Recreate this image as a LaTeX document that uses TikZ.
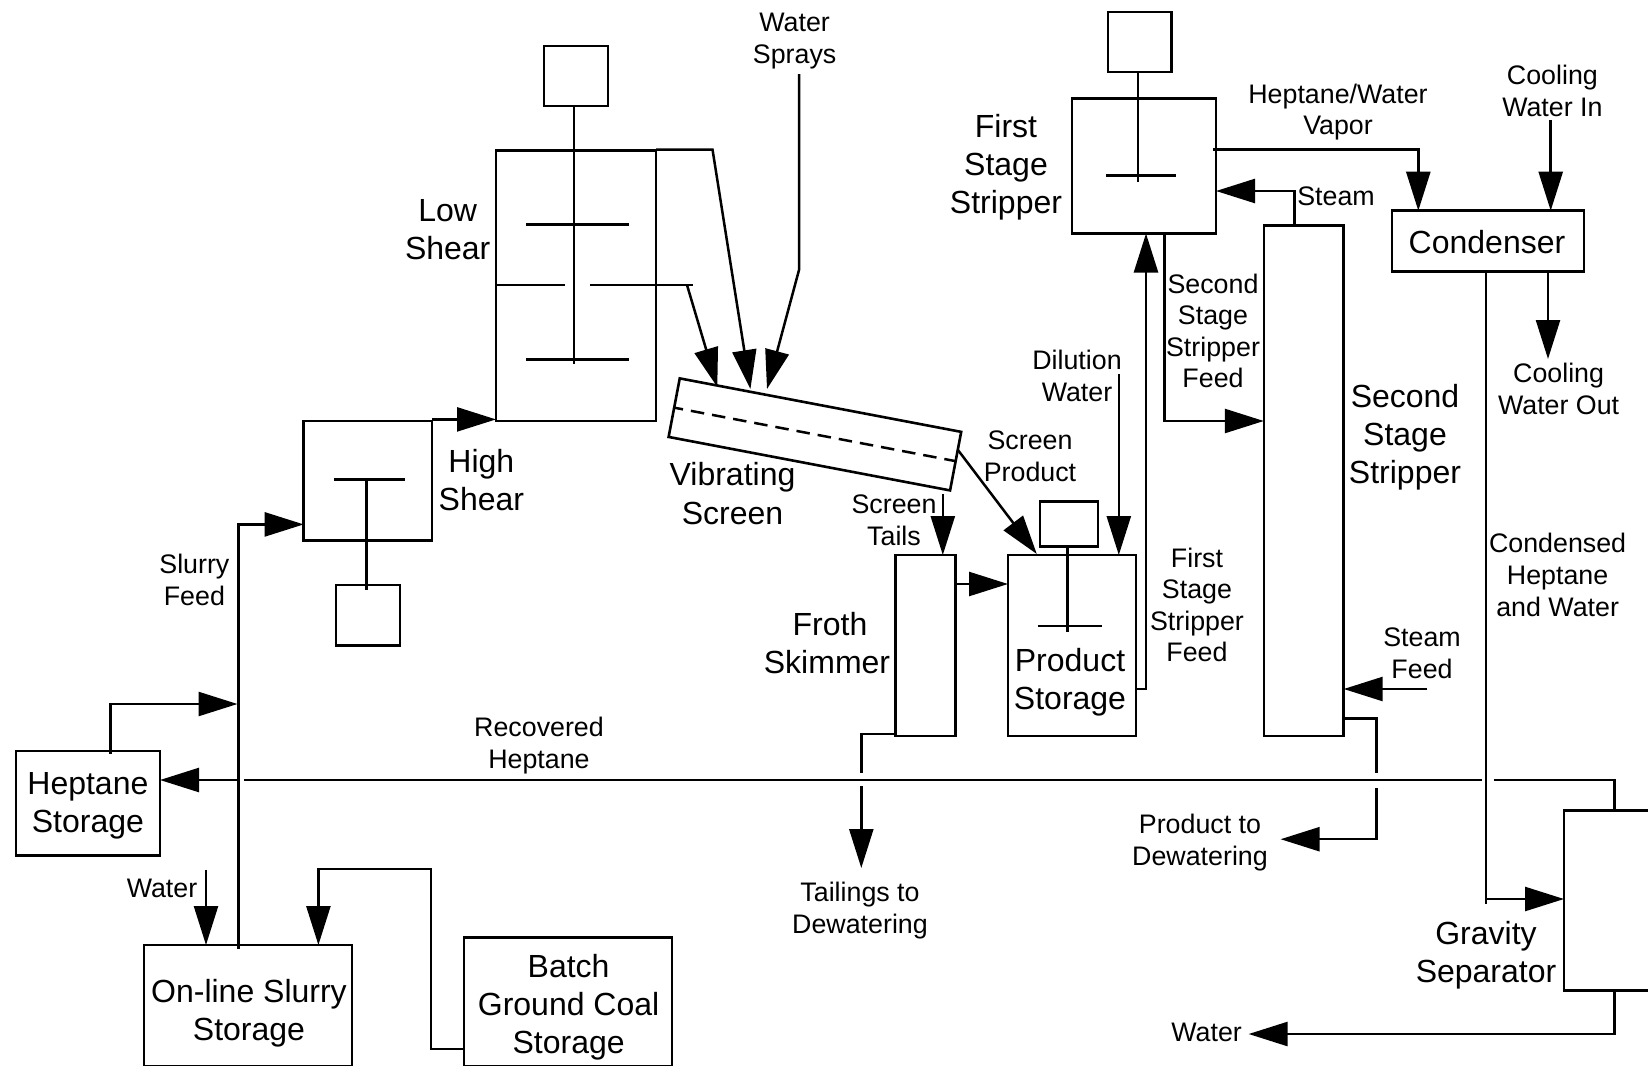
\documentclass[tikz,border=0pt]{standalone}
\usepackage{fontspec}
\setmainfont{Liberation Sans}
\usetikzlibrary{arrows.meta}
\tikzset{
  wire/.style={line width=2.5pt,line join=miter},
  flow/.style={wire,-{Triangle[length=39pt,width=24pt]}},
  vessel/.style={draw,line width=2.6pt,inner sep=0pt,outer sep=0pt,align=center,font=\fontsize{32}{38.2}\selectfont},
  small/.style={inner sep=0pt,align=center,font=\fontsize{26.8}{31.6}\selectfont},
  big/.style={inner sep=0pt,align=center,font=\fontsize{32}{38.2}\selectfont},
}
\newcommand{\vesselbox}[6]{\node[vessel,minimum width={(#4-#2)*1pt},minimum height={(#5-#3)*1pt}] (#1) at ({(#2+#4)/2},{(#3+#5)/2}) {#6};}
\begin{document}
\begin{tikzpicture}[x=1pt,y=-1pt]
\clip (0,0) rectangle (1648,1065);
\fill[white] (0,0) rectangle (1648,1065);
% vessels
\vesselbox{lsm}{544}{46}{608}{106}{}
\vesselbox{ls}{496}{150.5}{656}{421}{}
\vesselbox{hs}{303.7}{421}{432}{540.6}{}
\vesselbox{hsm}{336}{585}{400}{645.7}{}
\vesselbox{hept}{15.8}{750.8}{160}{855.6}{}
\vesselbox{online}{144}{945}{352}{1066.6}{}
\vesselbox{batch}{464}{937.5}{672}{1066.6}{}
\vesselbox{froth}{895.5}{555}{955.4}{735.8}{}
\vesselbox{prod}{1008}{555}{1136}{735.8}{}
\vesselbox{prodm}{1040}{501.7}{1097.8}{546.4}{}
\vesselbox{fsm}{1107.8}{12}{1171.4}{72}{}
\vesselbox{fs}{1072}{98.5}{1216}{233.5}{}
\vesselbox{ss}{1263.8}{225.5}{1343.7}{735.8}{}
\vesselbox{cond}{1392}{210.7}{1584}{271.3}{}
\vesselbox{grav}{1564}{810.5}{1700}{990.7}{}
\node[draw,line width=2.6pt,inner sep=0pt,outer sep=0pt,minimum width=286.5pt,minimum height=59.6pt,rotate=-10.76] (screen) at (814.9,434.4) {};
\draw[wire,dash pattern=on 13.5pt off 8pt,dash phase=4.5pt] (screen.west) -- (screen.east);
% impellers
\coordinate (lsa) at (526,224.5); \coordinate (lsb) at (629,224.5);
\coordinate (lsc) at (526,359.5); \coordinate (lsd) at (629,359.5);
\coordinate (lse) at (565,285); \coordinate (lsf) at (590,285); \coordinate (lsg) at (693,285);
\coordinate (lsh) at (574,364);
\draw[wire] (lsm.south -| lsh) -- (lsh);
\draw[wire] (lsa) -- (lsb);
\draw[wire] (lsc) -- (lsd);
\draw[wire] (ls.west |- lse) -- (lse);
\draw[wire] (lsf) -- (lsg);
\coordinate (hsa) at (334,479.3); \coordinate (hsb) at (405,479.3); \coordinate (hsc) at (366.3,479.3); \coordinate (hsd) at (366.3,589.7);
\draw[wire] (hsa) -- (hsb);
\draw[wire] (hsc) -- (hsd);
\coordinate (pa) at (1037.9,626); \coordinate (pb) at (1102,626); \coordinate (pc) at (1067.3,545); \coordinate (pd) at (1067.3,631.7);
\draw[wire] (pa) -- (pb);
\draw[wire] (pc) -- (pd);
\coordinate (fa) at (1106,175.6); \coordinate (fb) at (1175.5,175.6); \coordinate (fc) at (1138.2,181.5);
\draw[wire] (fa) -- (fb);
\draw[wire] (fsm.south -| fc) -- (fc);
% connectors to the screen
\coordinate (t1) at (717.3,387); \coordinate (t2) at (750.4,389); \coordinate (t3) at (767,389);
\coordinate (b1) at (687,285); \coordinate (b2) at (712.5,149.5); \coordinate (b3) at (799,270); \coordinate (w0) at (799,74);
\draw[flow] (b1) -- (t1);
\draw[flow] (ls.east |- b2) -- (b2) -- (t2);
\draw[flow] (w0) -- (b3) -- (t3);
% slurry and heptane
\draw[flow] (hs.east |- 0,419.4) -- (ls.west |- 0,419.4);
\coordinate (sl) at (238.6,949);
\draw[flow] (sl) -- (238.6,524.4) -- (hs.west |- 0,524.4);
\coordinate (j1) at (237.5,704);
\draw[flow] (110.4,754) -- (110.4,704) -- (j1);
\coordinate (j2) at (238,780);
\draw[flow] (j2) -- (hept.east |- j2);
\coordinate (r1) at (244.4,780); \coordinate (r2) at (1482.4,780); \coordinate (r3) at (1493.5,780);
\draw[wire] (r1) -- (r2);
\draw[wire] (r3) -- (1614.3,780) -- (1614.3,810.5);
\coordinate (w1) at (206,869.6);
\draw[flow] (w1) -- (online.north -| w1);
\coordinate (bt) at (318.4,869);
\draw[flow] (batch.west |- 0,1049) -- (431,1049) -- (431,869) -- (bt) -- (online.north -| bt);
% screen outputs
\coordinate (st) at (942.8,494);
\draw[flow] (st) -- (froth.north -| st);
\coordinate (sp) at (957.5,449.4); \coordinate (sq) at (1036.8,554);
\draw[flow] (sp) -- (sq);
\coordinate (dw) at (1118.8,374);
\draw[flow] (dw) -- (prod.north -| dw);
\draw[flow] (froth.east |- 0,584) -- (prod.west |- 0,584);
% froth tails
\draw[wire] (froth.west |- 0,733.8) -- (861.3,733.8) -- (861.3,773);
\coordinate (ta) at (861.3,786); \coordinate (tb) at (861.3,868);
\draw[flow] (ta) -- (tb);
% stripper links
\draw[flow] (prod.east |- 0,689) -- (1146,689) -- (fs.south -| 1146,0);
\coordinate (f2) at (1164.5,421);
\draw[flow] (fs.south -| f2) -- (f2) -- (ss.west |- f2);
\coordinate (sm) at (1294.3,191);
\draw[flow] (ss.north -| sm) -- (sm) -- (fs.east |- sm);
\coordinate (sf) at (1427.3,689);
\draw[flow] (sf) -- (ss.east |- sf);
\draw[wire] (ss.east |- 0,718.7) -- (1376.3,718.7) -- (1376.3,773);
\coordinate (pe) at (1376.3,788.4); \coordinate (pf) at (1280.6,839.2);
\draw[flow] (pe) -- (1376.3,839.2) -- (pf);
% condenser
\coordinate (v1) at (1213.4,149.5); \coordinate (v2) at (1418.3,149.5);
\draw[flow] (v1) -- (v2) -- (cond.north -| v2);
\coordinate (ci) at (1550.7,119.8);
\draw[flow] (ci) -- (cond.north -| ci);
\coordinate (co) at (1548,359);
\draw[flow] (cond.south -| co) -- (co);
\coordinate (cj) at (1486,904.4);
\draw[wire] (cond.south -| cj) -- (cj);
\draw[flow] (1486,899) -- (grav.west |- 0,899);
\coordinate (wt) at (1248.6,1034);
\draw[flow] (1614.3,989) -- (1614.3,1034) -- (wt);
% labels
\node[big] (l0a) at (87.9,805.5) {Heptane\\Storage};
\node[big] (l0b) at (1487,242) {Condenser};
\node[small] (l1) at (794.6,40.8) {Water\\Sprays};
\node[big] (l2) at (447.7,230) {Low\\Shear};
\node[big] (l3) at (481.4,480) {High\\Shear};
\node[big] (l4) at (732.5,493.5) {Vibrating\\Screen};
\node[small] (l5) at (194.4,580) {Slurry\\Feed};
\node[big] (l6) at (249,1013.5) {On-line Slurry\\Storage};
\node[big] (l7) at (1070,682) {Product\\Storage};
\node[big] (l8) at (568.6,1007) {Batch\\Ground Coal\\Storage};
\node[small] (l9) at (162,888.5) {Water};
\node[small] (l10) at (539,745.5) {Recovered\\Heptane};
\node[big] (l11) at (827,643) {\hspace*{6pt}Froth\\Skimmer};
\node[small] (l12) at (894,520) {Screen\\Tails};
\node[small] (l13) at (1030,456.5) {Screen\\Product};
\node[small] (l14) at (1077,376) {Dilution\\Water};
\node[big] (l15) at (1006,167) {First\\Stage\\Stripper};
\node[small] (l16) at (1338,112) {Heptane/Water\\Vapor};
\node[small] (l17) at (1336,196) {Steam};
\node[small] (l18) at (1213,331) {Second\\Stage\\Stripper\\Feed};
\node[big] (l19) at (1405,437) {Second\\Stage\\Stripper};
\node[small] (l20) at (1197,605) {First\\Stage\\Stripper\\Feed};
\node[small] (l21) at (1552.4,91) {Cooling\\Water In};
\node[small] (l22) at (1558.6,389) {Cooling\\Water Out};
\node[small] (l23) at (1557.6,575) {Condensed\\Heptane\\and Water};
\node[small] (l24) at (1422,653.5) {Steam\\Feed};
\node[small] (l25) at (860,910.5) {Tailings to\\Dewatering};
\node[small] (l26) at (1200,842.5) {Product to\\Dewatering};
\node[big] (l27) at (1486,955) {Gravity\\Separator};
\node[small] (l28) at (1206.6,1032) {Water};
\end{tikzpicture}
\end{document}
